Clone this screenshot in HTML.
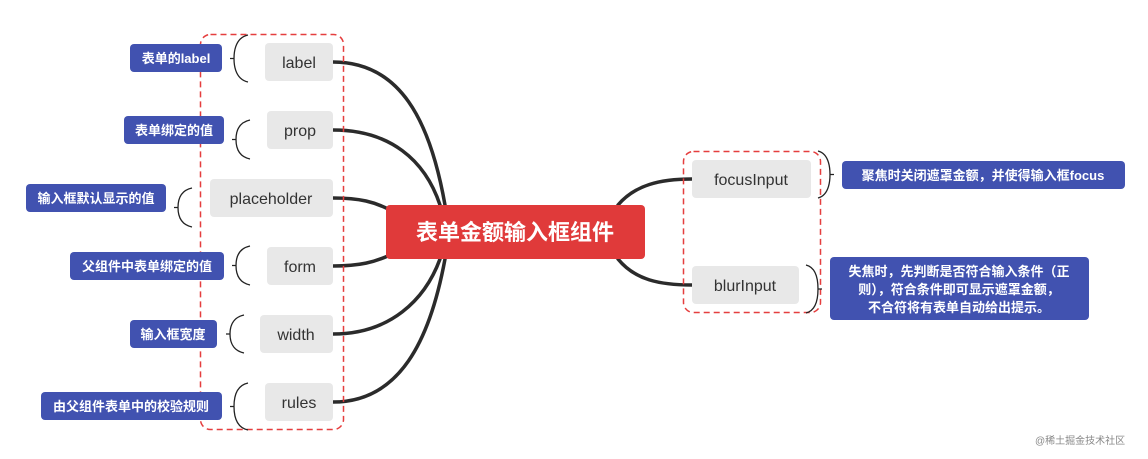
<!DOCTYPE html>
<html><head><meta charset="utf-8"><style>
html,body{margin:0;padding:0;background:#fff;}
svg text{font-family:"Liberation Sans","Noto Sans CJK SC",sans-serif;}
</style></head><body>
<svg width="1148" height="454" viewBox="0 0 1148 454" xmlns="http://www.w3.org/2000/svg">
<g fill="none" stroke="#2b2b2b" stroke-width="3.5" stroke-linecap="round">
<path d="M333 62 C400 62 430 120 445 205"/>
<path d="M333 130 C390 130 425 160 440 205"/>
<path d="M333 198 C360 198 375 202 390 210"/>
<path d="M333 266 C360 266 375 262 390 255"/>
<path d="M333 334 C390 334 425 300 440 259"/>
<path d="M333 402 C400 402 430 340 445 259"/>
<path d="M618 205 C635 185 660 179 692 179"/>
<path d="M618 259 C635 280 660 285 692 285"/>
</g>
<rect x="200.5" y="34.5" width="143" height="395" rx="10" fill="none" stroke="#e53e3e" stroke-width="1.5" stroke-dasharray="6,4"/>
<rect x="683.5" y="151.5" width="137" height="161" rx="10" fill="none" stroke="#e53e3e" stroke-width="1.5" stroke-dasharray="6,4"/>
<g fill="#e8e8e8">
<rect x="265" y="43" width="68" height="38" rx="4"/>
<rect x="267" y="111" width="66" height="38" rx="4"/>
<rect x="210" y="179" width="123" height="38" rx="4"/>
<rect x="267" y="247" width="66" height="38" rx="4"/>
<rect x="260" y="315" width="73" height="38" rx="4"/>
<rect x="265" y="383" width="68" height="38" rx="4"/>
<rect x="692" y="160" width="119" height="38" rx="4"/>
<rect x="692" y="266" width="107" height="38" rx="4"/>
</g>
<g font-size="16" fill="#333" text-anchor="middle">
<text x="299" y="68">label</text>
<text x="300" y="136">prop</text>
<text x="271" y="204">placeholder</text>
<text x="300" y="272">form</text>
<text x="296" y="340">width</text>
<text x="299" y="408">rules</text>
<text x="751" y="185">focusInput</text>
<text x="745" y="291">blurInput</text>
</g>
<rect x="386" y="205" width="259" height="54" rx="4" fill="#e03a3a"/>
<text x="515" y="240" font-size="22" font-weight="bold" fill="#fff" text-anchor="middle">表单金额输入框组件</text>
<g fill="none" stroke="#222" stroke-width="1.3">
<path d="M248 35 C234 38 234 55 234 58.5 C234 62 234 79 248 82 M234 58.5 H230"/>
<path d="M250 120 C236 123 236 136 236 139.5 C236 143 236 156 250 159 M236 139.5 H232"/>
<path d="M192 188 C178 191 178 204 178 207.5 C178 211 178 224 192 227 M178 207.5 H174"/>
<path d="M250 246 C236 249 236 262 236 265.5 C236 269 236 282 250 285 M236 265.5 H232"/>
<path d="M244 315 C230 318 230 331 230 334 C230 337 230 350 244 353 M230 334 H226"/>
<path d="M248 383 C234 386 234 402 234 406.5 C234 411 234 427 248 430 M234 406.5 H230"/>
<path d="M818 151 C830 154 830 171 830 174.5 C830 178 830 195 818 198 M830 174.5 H834"/>
<path d="M806 265 C818 268 818 285 818 289 C818 293 818 310 806 313 M818 289 H822"/>
</g>
<g fill="#4152b0">
<rect x="130" y="44" width="92" height="28" rx="4"/>
<rect x="124" y="116" width="100" height="28" rx="4"/>
<rect x="26" y="184" width="140" height="28" rx="4"/>
<rect x="70" y="252" width="154" height="28" rx="4"/>
<rect x="130" y="320" width="87" height="28" rx="4"/>
<rect x="41" y="392" width="181" height="28" rx="4"/>
<rect x="842" y="161" width="283" height="28" rx="4"/>
<rect x="830" y="257" width="259" height="63" rx="4"/>
</g>
<g font-size="13" font-weight="bold" fill="#fff" text-anchor="middle">
<text x="176" y="63">表单的label</text>
<text x="174" y="135">表单绑定的值</text>
<text x="96" y="203">输入框默认显示的值</text>
<text x="147" y="271">父组件中表单绑定的值</text>
<text x="173" y="339">输入框宽度</text>
<text x="131" y="411">由父组件表单中的校验规则</text>
<text x="983" y="180">聚焦时关闭遮罩金额，并使得输入框focus</text>
<text x="959" y="276">失焦时，先判断是否符合输入条件（正</text>
<text x="959" y="294">则），符合条件即可显示遮罩金额，</text>
<text x="959" y="312">不合符将有表单自动给出提示。</text>
</g>
<text x="1035" y="444" font-size="10" fill="#888">@稀土掘金技术社区</text>
</svg>
</body></html>
